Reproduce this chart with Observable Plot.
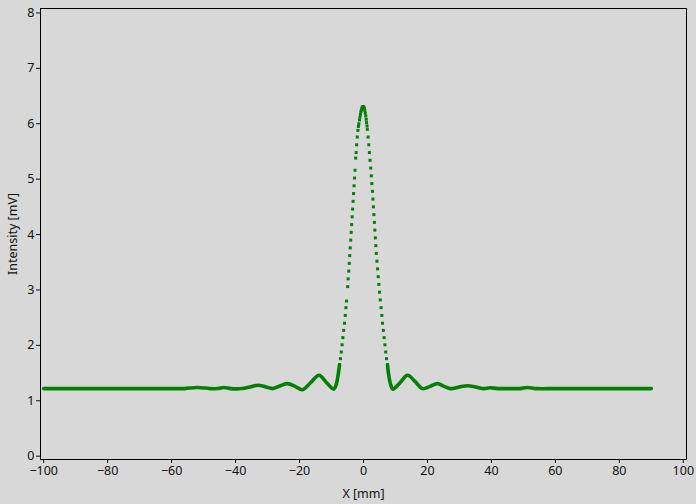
<!DOCTYPE html>
<html>
<head>
<meta charset="utf-8">
<script src="https://cdn.jsdelivr.net/npm/d3@7"></script>
<script src="https://cdn.jsdelivr.net/npm/@observablehq/plot@0.6"></script>
<style>
  html, body { margin: 0; padding: 0; background: #d8d8d8; }
  #chart svg { display: block; background: #d8d8d8; }
</style>
</head>
<body>
<div id="chart"></div>
<script>
// Tick labels
const xTicks = [-100, -80, -60, -40, -20, 0, 20, 40, 60, 80, 100];
const yTicks = [0, 1, 2, 3, 4, 5, 6, 7, 8];

// Low-level part of the profile (dense dots merge into a thick trace)
const baseX = [-100, -90, -80, -70, -60, -56, -52, -48, -45.5, -43.7, -41.5, -38, -35.5, -33, -30.5, -28.4, -26, -23.75, -21.4, -19.1, -16.5, -13.9, -11.6, -9.3, -8.5, -7.9, -7.5];
const baseY = [1.22, 1.22, 1.22, 1.22, 1.22, 1.22, 1.24, 1.22, 1.22, 1.24, 1.22, 1.22, 1.25, 1.28, 1.25, 1.22, 1.27, 1.31, 1.26, 1.20, 1.33, 1.46, 1.33, 1.21, 1.30, 1.48, 1.65];
const baseRX = [7.5, 7.9, 8.5, 9.2, 11.5, 13.75, 16.1, 18.4, 20.8, 23.1, 25.2, 27.3, 30, 32.5, 35, 37.7, 39.5, 42, 46, 49, 51.2, 54, 60, 70, 80, 90];
const baseRY = [1.65, 1.46, 1.29, 1.21, 1.33, 1.46, 1.35, 1.22, 1.26, 1.31, 1.26, 1.22, 1.25, 1.27, 1.25, 1.22, 1.235, 1.22, 1.22, 1.22, 1.24, 1.22, 1.22, 1.22, 1.22, 1.22];

// Main lobe: individually visible dots
const peakX = [-7.5, -7.2, -6.95, -6.7, -6.45, -6.2, -5.95, -5.7, -5.5, -5.3,
  -4.95, -4.8, -4.6, -4.45, -4.3, -4.15, -4.0, -3.85, -3.7, -3.55, -3.4, -3.25, -3.1, -2.95, -2.8, -2.65,
  -2.45, -2.3, -2.15, -1.95, -1.75, -1.6, -1.45, -1.25, -1.1, -0.95, -0.8, -0.65, -0.5, -0.35, -0.2, -0.05, 0.1, 0.25, 0.4, 0.55, 0.7, 0.85, 0.95, 1.1, 1.2, 1.45, 1.65, 1.85,
  2.05, 2.25, 2.45, 2.6, 2.8, 2.95, 3.1, 3.25, 3.4, 3.55, 3.7, 3.85, 4.0, 4.2, 4.4, 4.6, 4.8, 5.0,
  5.25, 5.5, 5.75, 5.95, 6.2, 6.45, 6.7, 6.95, 7.2, 7.5];
const peakY = [1.65, 1.76, 1.88, 2.01, 2.14, 2.27, 2.40, 2.54, 2.68, 2.80,
  3.06, 3.20, 3.34, 3.48, 3.62, 3.76, 3.90, 4.04, 4.18, 4.32, 4.46, 4.60, 4.74, 4.88, 5.02, 5.16,
  5.38, 5.48, 5.62, 5.76, 5.88, 5.95, 6.00, 6.07, 6.12, 6.17, 6.22, 6.25, 6.28, 6.30, 6.31, 6.31, 6.30, 6.28, 6.24, 6.19, 6.14, 6.08, 6.02, 5.96, 5.90, 5.76, 5.62, 5.48,
  5.34, 5.20, 5.06, 4.92, 4.78, 4.64, 4.50, 4.36, 4.22, 4.08, 3.94, 3.80, 3.66, 3.52, 3.38, 3.24, 3.10, 2.96,
  2.82, 2.68, 2.54, 2.40, 2.27, 2.14, 2.01, 1.88, 1.76, 1.65];

const leftData = baseX.map((x, i) => ({x, y: baseY[i]}));
const rightData = baseRX.map((x, i) => ({x, y: baseRY[i]}));
const peakData = peakX.map((x, i) => ({x, y: peakY[i]}));

const green = "#008000";
const font = "'Noto Sans', 'Open Sans', sans-serif";

const chart = Plot.plot({
  width: 696,
  height: 504,
  marginLeft: 40,
  marginRight: 10,
  marginTop: 8,
  marginBottom: 45,
  style: {background: "#d8d8d8", fontFamily: font, fontSize: "12.5px", color: "#111"},
  x: {domain: [-101, 101]},
  y: {domain: [-0.06, 8.08]},
  marks: [
    Plot.frame({stroke: "black", strokeWidth: 1}),
    Plot.axisX({ticks: xTicks, tickSize: 4, tickPadding: 3, fontSize: 12.5, label: "X [mm]", labelAnchor: "center", labelArrow: "none", labelOffset: 38}),
    Plot.axisY({ticks: yTicks, tickSize: 4, tickPadding: 2, fontSize: 12.5, label: "Intensity [mV]", labelAnchor: "center", labelArrow: "none", labelOffset: 32}),
    Plot.line(leftData, {x: "x", y: "y", stroke: green, strokeWidth: 3.6, curve: "catmull-rom"}),
    Plot.line(rightData, {x: "x", y: "y", stroke: green, strokeWidth: 3.6, curve: "catmull-rom"}),
    Plot.dot(peakData, {x: "x", y: "y", symbol: "square", r: 1.7, fill: green, stroke: "none"})
  ]
});
document.getElementById("chart").appendChild(chart);
</script>
</body>
</html>
